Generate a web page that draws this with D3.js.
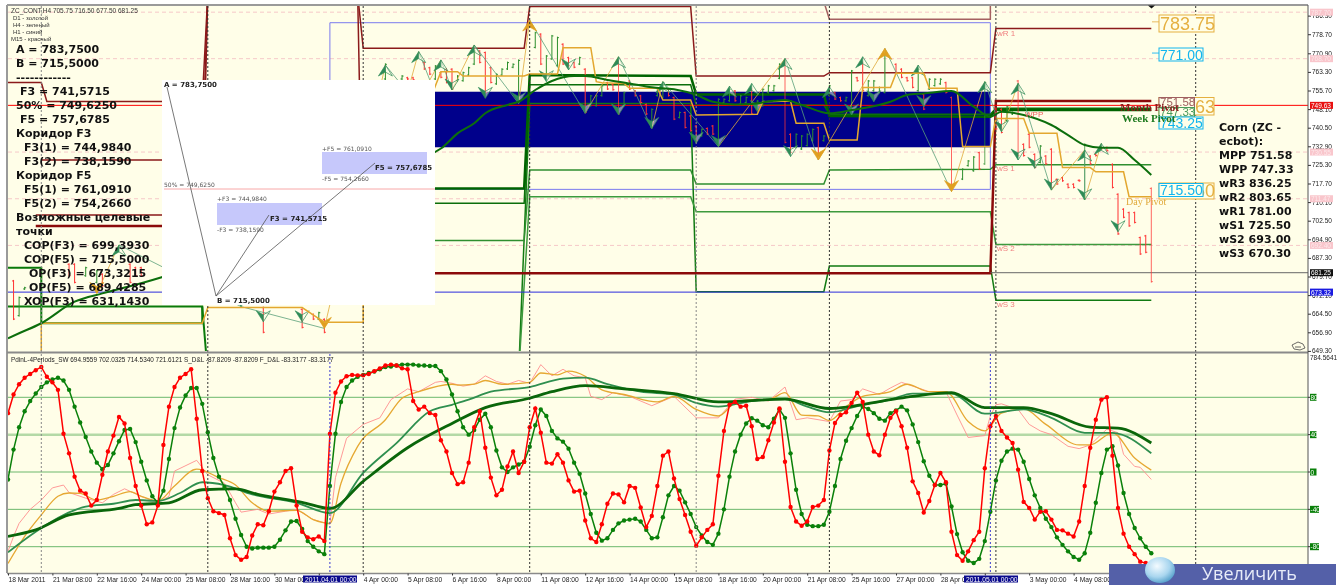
<!DOCTYPE html>
<html><head><meta charset="utf-8">
<script src="https://cdn.jsdelivr.net/npm/d3@7/dist/d3.min.js"></script>
<style>html,body{margin:0;padding:0;background:#fff;overflow:hidden}svg{display:block;filter:blur(.3px)}</style>
</head><body><svg id="c" width="1339" height="585"></svg>
<script>
// ---------- oscillator pane ----------
const oscRed=[63,83,94,101,105,109,112.5,102,96,88,41,20,-5,-20,-23,-36,-30,-3,22,39,59,52,15,-15,-36,-56,-54,-36,29,70,91,101,105,110,57,1,-28,-42,-44,-46,-71,-89,-94,-91,-68,-56,-57,-42,-21,-11,1,4,-36,-64,-70,-72,-69,-74,41,85,97,102.5,104,103.5,103.5,105,108,111,114,115,114,111,110,76,67,70,63,61,34,22,-1,-13,-11,10,48,65,26,-6,-25,-19,6,22,-1,11,48,68,42,10,9,19,10,-9,-21,-20,-52,-71,-75,-56,-34,-23,-24,-32.5,-15,-17,-38,-59,-47,-15,17.5,22,-7,-29,-46,-64,-79,-70,-62,-56,-4,44,72,75,70,71,49,14,16,34,53,68,11,-37.5,-53,-57.5,-53,-37.5,-36,-30,23,52.5,61,64,74,85,75,40,22,18,40,58,65,49,26,-10,-22.5,-43.5,-31,-14,-1,-11,-64,-89,-95,-85,-73,-64,4,49,60,44,37,31,2.5,-32,-38.5,-51,-42.5,-42,-51,-62,-62.5,-66,-69,-53,-15,26,56,77.5,80,17.5,-38.5,-66,-80,-88,-96,-97.5,-105];
const oscGreen=[-8,24,48,65,76,84,91,96,99,101,98,88,70,53,37.5,22,10,3,7.5,20,33,45,46,32,11,-9,-26,-33,-20,14,47,69,82,90,90,73,42.5,15,-5,-16,-30,-50,-67.5,-80,-82,-81,-81,-81,-80,-72.5,-62.5,-53,-52.5,-61,-74,-80,-85,-88,-15,41,75,91,98,102,104,106,107.5,110,112.5,113,114,115,115,115,114,114,113.5,113.5,108,99,83,65,48,40,45,56,62.5,48,23,5,0,5,8,11,27,50,67,60,44,36,32.5,25,10,-2,-23,-45,-65,-73.5,-71,-62,-55,-52,-51,-50,-53,-62,-71,-70,-48.5,-25,-15,-20,-32.5,-45,-59,-68,-75,-78,-66,-40,-5,22,40,52,57.5,55,50,48,57,67,58,20,-19,-45,-56.5,-58,-58,-56.5,-42.5,-15,14,33.5,47,60,70,67.5,63,57,55,63,66,70,66,51,32,11.5,-4,-14,-14,-12.5,-37,-66.5,-86,-95,-97.5,-93,-74,-42.5,-9,12,22,25,24,11,-7.5,-25,-38.5,-50,-59,-70,-78,-85,-91,-94,-87,-65,-33,-1,24,27.5,7,-22.5,-45,-60,-71,-80,-87];
const maThinRed=[[0,-85],[1,-69],[2,-55],[4,-40],[6,-30],[8,-17],[10,-14],[11,-22],[14,-28],[17,-33],[19,-24],[21,-18],[24,-26],[27,-33],[29,-26],[30,1],[34,12.5],[36,-3],[39,-12],[41,-33],[42,-43],[45,-40],[47,-45],[50,-42],[52,-40],[55,-51],[58,-56],[59,-6],[61,36],[64,51],[67,58],[69,77.5],[72,89],[74,86],[77,96],[78,97],[80,95],[82,92],[84,94],[86,103],[88,97],[90,94],[92,98],[94,95],[96,115],[98,103],[100,110],[102,103],[104,101],[105,81],[107,77.5],[109,85],[112,81],[116,71],[120,81],[124,58],[128,58],[131,78],[134,80],[137,76],[140,91],[142,56],[144,58],[148,54],[150,76],[152,77.5],[154,89],[157,83],[159,90],[161,96],[163,92],[166,86],[169,86],[171,61],[173,37],[176,39],[177,60],[178,72],[179,73],[182,67],[184,51],[186,44],[188,40],[191,27.5],[193,25],[195,29],[198,46],[200,42],[201,19],[203,6],[204,5],[206,-8]];
const maOrange=[[0,-98],[3,-69],[6,-46],[9,-26],[11,-22.5],[13,-23],[16,-30],[19,-26],[22,-21],[24,-26],[27,-31],[30,-15],[34,3],[38,-6],[41,-14],[44,-33],[47,-42],[52,-41],[55,-51],[58,-55],[60,-12],[63,27.5],[68,56],[71,79],[74,86],[80,94],[81,93],[84,94],[86,98],[89,94],[94,96],[96,106],[99,104],[101,108],[104,102.5],[107,88],[111,83],[117,75],[120,81],[124,67],[128,60],[131,74],[134,77.5],[137,77.5],[140,85],[143,61],[146,60],[148,55],[151,70],[154,81],[159,86],[162,94],[166,86],[169,86],[173,54],[176,44],[179,63],[183,67.5],[187,51],[193,29],[195,29],[199,42],[203,15],[206,2]];
const maMedGreen=[[0,-86],[5,-64],[10,-46],[14,-37],[19,-34],[23,-30],[27,-31],[31,-22.5],[35,-11],[39,-14],[44,-24],[52,-33],[58,-44],[64,-1],[70,31],[76,65],[80,72],[83,77.5],[87,86],[94,91],[100,100],[104,101],[108,94],[114,86],[120,83],[124,74],[128,70],[134,76],[140,78],[144,70],[148,64],[154,72],[159,77.5],[163,84],[170,84],[176,62.5],[183,67],[188,58],[194,42],[199,42],[206,20]];
const maThickGreen=[[0,-69],[5,-62],[11,-46],[20,-39],[23,-35],[29,-33],[35,-19],[41,-18],[45,-24],[53,-32.5],[58,-39],[64,-10],[72,26],[80,52],[86,69],[94,79],[98,86],[104,92.5],[111,89],[120,84],[128,75],[140,78],[148,68],[159,77.5],[163,81],[170,85],[176,69],[183,69],[188,62.5],[195,48],[200,47],[206,31]];
const oscLevels=[80,40,0,-40,-80];
const dateTickLabels=["18 Mar 2011","21 Mar 08:00","22 Mar 16:00","24 Mar 00:00","25 Mar 08:00","28 Mar 16:00","30 Mar 00:00","","4 Apr 00:00","5 Apr 08:00","6 Apr 16:00","8 Apr 00:00","11 Apr 08:00","12 Apr 16:00","14 Apr 00:00","15 Apr 08:00","18 Apr 16:00","20 Apr 00:00","21 Apr 08:00","25 Apr 16:00","27 Apr 00:00","28 Apr 08:00","","3 May 00:00","4 May 08:00"];
const dateTickBars=dateTickLabels.map((d,k)=>k*8);
// ---------- price pane ----------
const priceTicks=[786.30,778.70,770.90,763.30,755.70,748.10,740.50,732.90,725.30,717.70,710.10,702.50,694.90,687.30,679.70,672.10,664.50,656.90,649.30];
const alertLevels=[787.70,768.70,730.55,711.47,692.40];
const barsOHLC=[[1,678.3,661.9,0],[2,671.5,663.3,1],[3,675.5,674.2,1],[11,685.1,679.6,0],[12,685.1,676.9,0],[14,683.7,679.6,1],[16,682.4,676.9,1],[17,681,675.5,0],[22,685.1,676.9,0],[23,683.7,679.6,0],[24,683.7,679.6,0],[46,667.4,656.5,0],[53,666.7,658.5,0],[55,664.6,661.9,0],[56,665.3,661.9,1],[57,662.6,656.5,0],[68,766.8,760,1],[71,762,760,1],[72,761.3,760,0],[73,761.3,759.7,0],[75,767.5,764.1,0],[76,765.4,762,0],[77,766.1,760,1],
[78,763.4,760.7,0],[79,764.8,758.6,0],[80,764.8,755.9,0],[81,762,759.3,1],[82,763.4,759.3,1],[83,765.4,761.6,1],[84,772.2,766.1,1],[85,772.2,766.8,0],[86,771.6,754.5,0],[87,765.4,758.6,0],[88,762.7,758,1],[89,764.8,761.6,1],[90,767.5,764.1,1],[91,766.8,764.8,1],[92,768.4,751.8,1],[95,779.7,772.9,1],[96,779.1,766.1,0],[97,770.2,762,1],[98,778.4,768.2,1],[99,777.7,765.4,1],[100,775,766.1,0],[101,769.5,765.4,0],[102,767.5,764.8,0],[103,769.5,766.1,1],[104,764.8,746.4,0],[105,753.9,749.1,1],[106,753.9,749.1,1],[107,758,753.2,1],[108,759.3,755.9,0],[109,758.6,755.6,0],[110,768.2,745.7,0],[111,755.2,749.1,1],[112,760,755.9,0],[113,755.9,753.2,0],[114,753.9,750.4,0],[115,750.4,745.7,0],[116,748.4,740.2,1],[117,756.6,753.2,1],[118,759.3,752.5,1],[119,756.6,753.2,0],[120,753.2,743.6,0],[121,747.1,744.3,1],[122,747.1,740.2,0],[123,745.7,738.9,0],[124,741.6,734.8,0],[125,740.2,736.8,1],[126,740.6,737.5,0],[127,741.6,737.5,0],[128,752.5,732.8,1],[129,752.5,750.4,1],[130,756.6,751.1,1],[131,755.9,751.1,0],[132,753.9,749.8,1],[133,753.2,750.4,1],[134,756.6,745.7,0],[135,751.8,747.7,1],[136,756.6,749.1,1],[137,758,754.5,1],[138,758,755.2,1],[139,766.8,760.3,1],[140,768.2,734.1,0],[141,738.2,730,0],[142,738.2,732.1,1],[143,737.5,731.4,1],[144,738.2,732.8,1],[145,740.2,734.8,1],[146,740.9,728.7,0],[147,737.5,734.8,1],[148,758,753.2,1],[149,755.2,751.8,0],[150,753.2,751.1,0],[151,753.2,751.1,1],[152,764.1,747.1,1],[153,761.3,759.3,0],[154,767.5,755.2,0],[155,760,753.2,1],[156,760,755.2,1],[157,757.3,754.5,1],[158,770.9,754.5,1],
[160,766.8,762.7,0],[161,764.8,760.7,0],[162,761.3,759.3,0],[163,761.3,756.6,0],[164,764.8,755.2,1],[165,754.5,747.7,0],[166,760.7,755.9,1],[167,760.7,757.3,1],[168,760.7,758,1],[169,759.3,754.5,0],[170,753.2,715,0],[172,723.9,719.1,1],[173,727.3,724.6,1],[174,728.9,722.5,1],[175,730.7,723.2,0],[176,759.3,725.3,1],[178,749.1,739.6,0],[179,748.4,738.2,0],[180,749.4,743,1],[181,747.1,745.7,1],[182,760,728.7,0],[183,734.1,728.7,0],[184,738.2,732.1,0],[185,730,723.9,0],[186,733.4,725.9,1],[187,729.3,725.3,0],[188,732.1,715.7,0],[189,719.8,717.1,0],[190,720.5,718.4,0],[191,717.8,715.7,0],[192,717.8,715.7,0],[193,719.4,718.4,0],[194,734.1,711,1],[195,729.3,725.3,0],[196,730,728.7,0],[197,732.8,731.4,0],[198,732.8,730.7,0],[199,725.9,715.7,0],[200,713.7,696.7,0],[201,707.6,703.5,0],[202,706.2,700,0],[203,706.2,701.4,0],[204,696,688.5,0],[205,696.7,689.2,0],[206,716.1,677.2,0]];
const arrowsUp=[[20,692.6],[68,766.1],[74,771.6],[78,768.2],[84,774.3],[94,784.5,1],[110,769.5],[118,759.3],[130,757.5],[134,758.6],[140,768.8],[148,757.3],[154,769.5],[158,772.9,1],[164,766.1],[176,759.3],[182,758.6],[194,731.4],[197,734.1]];
const arrowsDown=[[16,672.8,1],[42,667.4],[46,661.2],[53,661.2],[57,658.5,1],[80,755.9],[86,752.5],[92,750.4],[97,759.3],[101,764.1],[104,746.4],[110,745.7],[116,740.2],[124,734.1],[128,732.8],[135,747.1],[141,728.7],[146,727.3,1],[152,745.7],[156,751.1],[165,749.1],[170,714.4,1],[179,738.9],[182,727.3],[185,723.9],[188,715],[194,711],[200,698]];
const zigzag=[[16,672.8],[20,692.6],[42,667.4],[57,658.5],[68,766.1],[72,755],[74,771.6],[76,760],[78,768.2],[80,755.9],[84,774.3],[92,750.4],[94,784.5],[104,746.4],[110,769.5],[116,740.2],[118,759.3],[128,732.8],[140,768.8],[146,727.3],[158,772.9],[170,714.4],[176,759.3],[179,738.9],[182,758.6],[188,715],[194,731.4],[194,711],[197,734.1]];
const stepOrange=[[6,640],[6,660.6],[35,660.6],[36,667],[53,667],[57,661],[64,661],[64,682],[78,763.4],[81,763.4],[82,761.6],[93,761.6],[94,762.4],[99,762.4],[100,773.2],[105,773.2],[106,759.3],[107,758.9],[111,758.6],[112,756.6],[117,756.6],[118,751.8],[123,751.8],[124,745.7],[135,746],[136,751.1],[141,751.4],[142,742.3],[147,742.3],[148,735.5],[153,735.5],[154,756.9],[159,756.9],[160,762.7],[165,762.7],[166,756.6],[171,756.6],[172,732.8],[177,732.8],[178,744.3],[183,744.3],[184,738.2],[189,738.2],[190,724.2],[195,724.2],[196,722.5],[201,722.5],[202,712.3],[206,712.3]];
const maUpper=[[0,654.4],[2,656.5],[6,660.6],[12,669.4],[17,672.8],[23,676.3],[29,680.3],[46,695],[62,720],[78,732],[81,738.2],[84,742.3],[86,746.4],[90,749.8],[92,751.1],[95,755.9],[98,759.6],[102,761.6],[104,761.6],[108,760],[112,758.6],[116,757],[120,756.2],[124,753.9],[127,751.1],[131,750],[134,750.2],[138,751.5],[140,751.8],[143,749.8],[148,746.4],[152,747.7],[159,751.1],[162,753.9],[165,754.5],[170,755.5],[174,749.1],[177,745],[179,747],[183,745.7],[188,741.6],[191,737.5],[194,733.4],[197,732.3],[200,732.3],[203,727.3],[206,721.2]];
const darkRedA=[[0,759],[6,759],[7,751.2],[35,751.2],[36,795],[63,795],[64,773],[93,773],[94,790],[123,790],[124,761.6],[147,761.6],[148,763],[177,763],[178,781],[206,781]];
const darkRedB=[[147,792],[148,784.8],[177,784.8],[177,795]];
const darkRedC=[[6,727.3],[35,727.3],[36,795],[63,795],[64,681]];
const darkRedD=[[5,704.8],[35,704.8],[36,795]];
const darkRedThick=[[5,700.3],[35,700.3],[36,681],[177,681],[178,751.4],[206,751.4]];
const greenThick=[[60,715.7],[93,715.7],[94,762],[123,761.6],[124,754.1],[147,754.1],[148,745.3],[177,745],[178,747.7],[206,747.7]];
const green2=[[60,709.6],[93,709.6],[94,758],[123,758],[124,749.8],[147,749.8],[148,746],[177,746],[178,748.4],[206,748.4]];
const green3=[[60,694.4],[93,694.4],[94,723.2],[123,723.2],[124,717.5],[147,717.5],[148,723.2],[177,723.5],[178,725.4],[206,725.4]];
const green4=[[92,640],[94,712.3],[123,712.3],[124,706.2],[177,706.2],[178,692.8],[206,692.8]];
const green5=[[92,640],[94,750.4],[123,750.4],[124,673.5],[147,673.5],[148,684],[177,684],[178,670],[206,670]];
const greenLeftA=[[0,667.4],[35,667.4],[36,640]];
const greenLeftB=[[0,683.3],[6,683.3],[6,660.6],[35,660.6],[35,667.4]];
const blueRange=[[58,715.3],[58,783.4],[177,783.4],[177,715.3],[58,715.3]];
const navyBand=[58,177,755.2,732.5];
const sessionBars=[6,36,64,94,124,148,178,214];
const grayBars=[6,124];
const blueSessionBars=[58,177];
// ---------- text ----------
const leftNotes=[["A = 783,7500",16],["B = 715,5000",16],["------------",16],["F3 = 741,5715",20],["50% = 749,6250",16],["F5 = 757,6785",20],["Коридор F3",16],["F3(1) = 744,9840",24],["F3(2) = 738,1590",24],["Коридор F5",16],["F5(1) = 761,0910",24],["F5(2) = 754,2660",24],["Возможные целевые",16],["точки",16],["COP(F3) = 699,3930",24],["COP(F5) = 715,5000",24],["OP(F3) = 673,3215",29],["OP(F5) = 689,4285",29],["XOP(F3) = 631,1430",24]];
const rightNotes=["Corn (ZC -","ecbot):","MPP 751.58","WPP 747.33","wR3 836.25","wR2 803.65","wR1 781.00","wS1 725.50","wS2 693.00","wS3 670.30"];
const legendNotes=["D1 - золотой","H4 - зеленый","H1 - синий","M15 - красный"];

// ---------- scales ----------
const x=d3.scaleLinear().domain([0,206]).range([8,8+206*5.55]);
const yP=d3.scaleLinear().domain([770.9,656.9]).range([53.3,332.3]);
const yO=d3.scaleLinear().domain([80,-80]).range([397.3,546.7]);
const svg=d3.select("#c");
const SANS="'Liberation Sans',Arial,sans-serif", DJ="'DejaVu Sans',sans-serif", SERIF="'Liberation Serif',serif";
const BG="#fffee8";
const defs=svg.append("defs");
defs.append("clipPath").attr("id","cu").append("rect").attr("x",8).attr("y",6).attr("width",1300).attr("height",345);
defs.append("clipPath").attr("id","cl").append("rect").attr("x",8).attr("y",354).attr("width",1300).attr("height",219);
const grad=defs.append("radialGradient").attr("id","ball").attr("cx",.4).attr("cy",.35).attr("r",.7);
grad.append("stop").attr("offset",0).attr("stop-color","#f4fbff");
grad.append("stop").attr("offset",.6).attr("stop-color","#a9d6ef");
grad.append("stop").attr("offset",1).attr("stop-color","#4f9cc8");

svg.append("rect").attr("width",1339).attr("height",585).attr("fill","#fff");
svg.append("rect").attr("x",8).attr("y",5).attr("width",1300).attr("height",568).attr("fill",BG);

const up=svg.append("g").attr("clip-path","url(#cu)");
const lo=svg.append("g").attr("clip-path","url(#cl)");
const lineP=d3.line().x(d=>x(d[0])).y(d=>yP(d[1]));
const lineO=d3.line().x(d=>x(d[0])).y(d=>yO(d[1]));
const smoothP=d3.line().x(d=>x(d[0])).y(d=>yP(d[1])).curve(d3.curveMonotoneX);
const smoothO=d3.line().x(d=>x(d[0])).y(d=>yO(d[1])).curve(d3.curveMonotoneX);

// navy band
up.append("rect").attr("x",x(navyBand[0])).attr("width",x(navyBand[1])-x(navyBand[0])).attr("y",yP(navyBand[2])).attr("height",yP(navyBand[3])-yP(navyBand[2])).attr("fill","#00008b");
// alert dashes
up.selectAll(".al").data(alertLevels).join("line").attr("x1",8).attr("x2",1308).attr("y1",d=>yP(d)).attr("y2",d=>yP(d)).attr("stroke","#f6c9c9").attr("stroke-dasharray","4,3").attr("stroke-width",1);
// session verticals
svg.selectAll(".vs").data(sessionBars).join("line").attr("x1",d=>x(d)).attr("x2",d=>x(d)).attr("y1",6).attr("y2",573)
 .attr("stroke",d=>grayBars.includes(d)?"#888":"#333").attr("stroke-dasharray","2,2").attr("stroke-width",1);
svg.selectAll(".vb").data(blueSessionBars).join("line").attr("x1",d=>x(d)).attr("x2",d=>x(d)).attr("y1",354).attr("y2",573).attr("stroke","#3a3ad0").attr("stroke-dasharray","2,2");
// level lines
const P=(d,c,w,o)=>up.append("path").attr("d",lineP(d)).attr("fill","none").attr("stroke",c).attr("stroke-width",w).attr("opacity",o||1).attr("stroke-linejoin","miter");
P(blueRange,"#7a7aee",1);
P(greenLeftB,"#0a7a0a",2);P(greenLeftA,"#0a7a0a",2);
P(green5,"#117a11",1.5);P(green4,"#3d9a3d",1.5);P(green3,"#2f8f2f",1.5);
P(green2,"#0b6e0b",1.5);P(greenThick,"#006400",2.5);
P(darkRedA,"#8b1a1a",1.5);P(darkRedB,"#a56060",1.5);P(darkRedC,"#8b1a1a",1.5);P(darkRedD,"#8b1a1a",1.5);
P(darkRedThick,"#8b0a0a",2.5);
// full-width price lines
up.append("line").attr("x1",8).attr("x2",1308).attr("y1",yP(749.63)).attr("y2",yP(749.63)).attr("stroke","#f00").attr("stroke-width",1);
up.append("line").attr("x1",8).attr("x2",1308).attr("y1",yP(673.32)).attr("y2",yP(673.32)).attr("stroke","#2b2bdd").attr("stroke-width",1);
up.append("line").attr("x1",x(177)).attr("x2",1308).attr("y1",yP(681.25)).attr("y2",yP(681.25)).attr("stroke","#666").attr("stroke-width",1);
// bars
up.selectAll(".b").data(barsOHLC).join("path").attr("d",d=>{const X=x(d[0]),h=yP(d[1]),l=yP(d[2]);return `M${X},${h}V${l}M${X-1.5},${d[3]?l-1:h+1}H${X}M${X},${d[3]?h+1:l-1}H${X+1.5}`;})
 .attr("stroke",d=>d[3]?"#2d8f2d":"#ff3333").attr("stroke-width",1).attr("fill","none").attr("opacity",d=>Math.abs(d[1]-d[2])>20?.75:1);
// zigzag
up.selectAll(".z").data(d3.pairs(zigzag)).join("path").attr("d",d=>lineP(d)).attr("fill","none").attr("stroke-width",.8)
 .attr("stroke",d=>d[1][1]>d[0][1]?"#e0a93a":"#5a9f7a");
// arrows
function arrow(sel,data,dir){sel.selectAll(null).data(data).join("g").attr("transform",d=>`translate(${x(d[0])},${yP(d[1])}) scale(1,${dir})`).each(function(d){
 const g=d3.select(this),c=d[2]?"#e0a020":"#2e8b57";
 g.append("path").attr("d","M0,0L-7,11L0,7Z").attr("fill",c);
 g.append("path").attr("d","M0,0L7,11L0,7Z").attr("fill",d[2]?c:"#fffee8").attr("stroke",c).attr("stroke-width",.7).attr("fill-opacity",d[2]?1:.5);
 g.append("path").attr("d","M0,0L-7,11L0,7").attr("fill","none").attr("stroke",c).attr("stroke-width",.6);
});}
arrow(up,arrowsUp,1);arrow(up,arrowsDown,-1);
// upper step + MA
P(stepOrange,"#e3a72f",1.5);
up.append("path").attr("d",smoothP(maUpper)).attr("fill","none").attr("stroke","#0c6e0c").attr("stroke-width",2);

// lower pane
lo.selectAll(".h").data(oscLevels).join("line").attr("x1",8).attr("x2",1308).attr("y1",d=>yO(d)).attr("y2",d=>yO(d))
 .attr("stroke",d=>d===40?"#b4d9a6":"#6cb86c").attr("stroke-width",d=>d===40?2.5:1);
const O=(d,c,w)=>lo.append("path").attr("d",lineO(d)).attr("fill","none").attr("stroke",c).attr("stroke-width",w);
const S=(d,c,w)=>lo.append("path").attr("d",smoothO(d)).attr("fill","none").attr("stroke",c).attr("stroke-width",w);
O(maThinRed,"#ff8f8f",.9);S(maOrange,"#e6a832",1.3);S(maMedGreen,"#2f8f4f",1.8);S(maThickGreen,"#0a660a",2.8);
const gp=oscGreen.map((v,i)=>[i,v]), rp=oscRed.map((v,i)=>[i,v]);
O(gp,"#0a800a",1.5);
lo.selectAll(".gd").data(gp).join("circle").attr("cx",d=>x(d[0])).attr("cy",d=>yO(d[1])).attr("r",2.2).attr("fill","#0a800a");
O(rp,"#ff0000",1.5);
lo.selectAll(".rd").data(rp).join("circle").attr("cx",d=>x(d[0])).attr("cy",d=>yO(d[1])).attr("r",2.2).attr("fill","#ff0000");

// frames
const frame=(x1,y1,x2,y2,c,w)=>svg.append("line").attr("x1",x1).attr("y1",y1).attr("x2",x2).attr("y2",y2).attr("stroke",c).attr("stroke-width",w);
frame(7,5,1308,5,"#9a9a9a",2);frame(7,5,7,573,"#9a9a9a",2);frame(7,352.5,1308,352.5,"#8a8a8a",2);frame(7,573.5,1308,573.5,"#8a8a8a",1.5);
frame(1308,5,1308,573,"#555",1);

// price axis
const ax=svg.append("g").attr("transform","translate(1308,0)").call(d3.axisRight(yP).tickValues(priceTicks).tickFormat(d3.format(".2f")).tickSize(3));
ax.select(".domain").remove();
ax.selectAll("text").attr("font-family",SANS).attr("font-size",6.5).attr("fill","#222").attr("x",4);
ax.selectAll("line").attr("stroke","#333");
// price axis coloured labels
const tagLabel=(price,bg,fg)=>{const g=svg.append("g");const Y=yP(price);
 g.append("rect").attr("x",1310).attr("y",Y-3.5).attr("width",23).attr("height",7).attr("fill",bg);
 g.append("text").attr("x",1311).attr("y",Y+2.5).attr("font-family",SANS).attr("font-size",6.5).attr("fill",fg).text(d3.format(".2f")(price));};
alertLevels.forEach(v=>tagLabel(v,"#f9c6cc","#fde8ea"));
tagLabel(749.63,"#e81010","#fff");tagLabel(681.25,"#111","#fff");tagLabel(673.32,"#1a1ae0","#fff");

// date axis
const bx=svg.append("g").attr("transform","translate(0,573.5)").call(d3.axisBottom(x).tickValues(dateTickBars).tickFormat((d,i)=>dateTickLabels[i]).tickSize(2));
bx.select(".domain").remove();
bx.selectAll("text").attr("font-family",SANS).attr("font-size",6.7).attr("fill","#222").attr("text-anchor","start").attr("y",4).attr("dy","0.71em");
bx.selectAll("line").attr("stroke","#333");
// highlight date tags
[[303,"2011.04.01 00:00"],[964,"2011.05.01 00:00"]].forEach(([X,t])=>{
 svg.append("rect").attr("x",X).attr("y",575.5).attr("width",54).attr("height",7).attr("fill","#0a0a8c");
 svg.append("text").attr("x",X+2).attr("y",581.5).attr("font-family",SANS).attr("font-size",6.7).attr("fill","#fff").text(t);});
// osc axis labels
oscLevels.forEach(v=>{const Y=yO(v);
 svg.append("rect").attr("x",1310).attr("y",Y-3.5).attr("width",v<0?9:6.5).attr("height",7).attr("fill","#0a800a");
 svg.append("text").attr("x",1310.5).attr("y",Y+2.5).attr("font-family",SANS).attr("font-size",6.5).attr("fill","#fff").text(v);
 frame(1308,Y,1310,Y,"#333",1);});
svg.append("text").attr("x",1310).attr("y",360).attr("font-family",SANS).attr("font-size",6.5).attr("fill","#222").text("784.5641");

// chart headers
const T=(t,X,Y,o={})=>svg.append("text").attr("x",X).attr("y",Y).attr("font-family",o.f||SANS).attr("font-size",o.s||7).attr("font-weight",o.w||400).attr("fill",o.c||"#111").attr("text-anchor",o.a||"start").text(t);
T("ZC_CONT,H4  705.75 716.50 677.50 681.25",11,13,{s:6.5,c:"#333"});
legendNotes.forEach((t,i)=>T(t,i==3?11:13,19.5+i*7,{s:6,c:"#333"}));
T("PdinL-4Periods_SW 694.9559 702.0325 714.5340 721.6121  S_D&L -87.8209 -87.8209  F_D&L -83.3177 -83.3177",11,362,{s:6.4,c:"#222"});

// small level names
[["wR 1",781],["wS 1",725.5],["wS 2",693],["wS 3",670.3]].forEach(([t,p])=>T(t,997,yP(p)+7,{s:8,f:SANS,c:"#f08080"}));
T("WPP",1025,117,{s:8,c:"#f06060"});

// left notes (drawn over chart)
leftNotes.forEach(([t,X],i)=>T(t,X,53+i*14,{s:11,w:700,f:DJ,c:"#111"}));

// Fibonacci overlay
const ov=svg.append("g");
ov.append("rect").attr("x",162).attr("y",80).attr("width",273).attr("height",225).attr("fill","#fff");
ov.append("rect").attr("x",217).attr("y",203).attr("width",105).attr("height",22).attr("fill","#c6c8fb");
ov.append("rect").attr("x",322).attr("y",152).attr("width",105).attr("height",22).attr("fill","#c6c8fb");
ov.append("line").attr("x1",164).attr("x2",435).attr("y1",189).attr("y2",189).attr("stroke","#f8a8a8").attr("stroke-width",1);
ov.append("path").attr("d","M167,87L216,296L269,215M216,296L375,163").attr("fill","none").attr("stroke","#555").attr("stroke-width",.8);
const OT=(t,X,Y,b)=>T(t,X,Y,{s:b?7:6,w:b?700:400,f:DJ,c:b?"#222":"#555"});
OT("A = 783,7500",164,87,1);OT("50% = 749,6250",164,187);OT("+F3 = 744,9840",217,201);OT("F3 = 741,5715",270,221,1);OT("-F3 = 738,1590",217,232);
OT("+F5 = 761,0910",322,151);OT("F5 = 757,6785",375,170,1);OT("-F5 = 754,2660",322,181);OT("B = 715,5000",217,303,1);

// right price boxes
const lbl=svg.append("g");
const leader=(X1,X2,p,c)=>lbl.append("line").attr("x1",X1).attr("x2",X2).attr("y1",yP(p)).attr("y2",yP(p)).attr("stroke",c).attr("stroke-width",1);
T("Month Pivot",1120,111,{s:11,w:700,f:SERIF,c:"#8b1a1a"});
T("Week Pivot",1122,122,{s:11,w:700,f:SERIF,c:"#1f7a1f"});
T("Day Pivot",1126,205,{s:10,f:SERIF,c:"#e0a93a"});
const box=(X,Y,W,H,t,c,fs,tx)=>{lbl.append("rect").attr("x",X).attr("y",Y).attr("width",W).attr("height",H).attr("fill",BG).attr("stroke",c).attr("stroke-width",1);
 lbl.append("text").attr("x",X+(tx||1)).attr("y",Y+H-(fs>14?2.5:1.5)).attr("font-family",SANS).attr("font-size",fs).attr("fill",c).text(t);};
leader(1152,1159,783.75,"#e9bb60");leader(1152,1159,771,"#33bdf0");
box(1159,15,55,17,"783.75","#e5b040",18);
box(1159,48,44,13,"771.00","#12b5ee",14);
box(1159,97.5,55,17.5,"749.63","#e5b040",18);
box(1159,97.5,35.5,10,"751.58","#a06060",11.5);
box(1159,107.5,35.5,9.5,"747.33","#4a9a5a",11.5);
box(1159,117,44,12,"743.25","#12b5ee",14);
box(1159,183,55,16,"715.50","#e5b040",18);
box(1159,183.5,44,13,"715.50","#12b5ee",14);
svg.append("path").attr("d","M1148,5.5h7l-3.5,3z").attr("fill","#111");

// right notes
rightNotes.forEach((t,i)=>T(t,1219,131+i*14,{s:11,w:700,f:DJ,c:"#111"}));

// scroll icon
svg.append("path").attr("d","M1292,345l6,-3l5,2l2,4l-5,2l-6,-1zM1295,347h6").attr("fill","none").attr("stroke","#444").attr("stroke-width",.8);

// zoom button
svg.append("rect").attr("x",1109).attr("y",564).attr("width",227).attr("height",21).attr("fill","#5460a8");
svg.append("ellipse").attr("cx",1160).attr("cy",570).attr("rx",15).attr("ry",13).attr("fill","url(#ball)");
T("Увеличить",1202,580,{s:18,c:"#e8ecf8",f:"'Open Sans',sans-serif"});
</script></body></html>
